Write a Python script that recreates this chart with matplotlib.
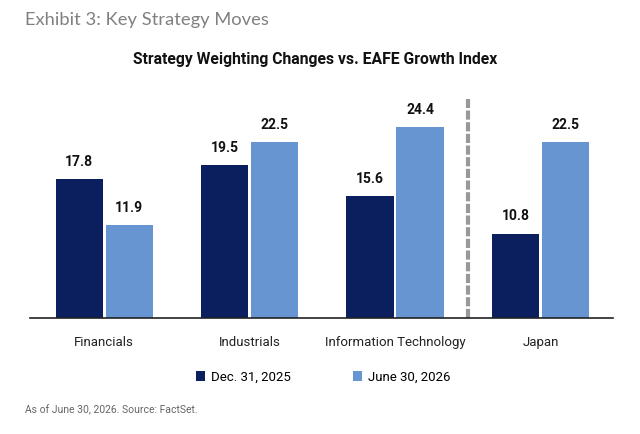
import matplotlib
matplotlib.use('Agg')
import matplotlib.pyplot as plt
import numpy as np

categories = ['Financials', 'Industrials', 'Information Technology', 'Japan']
dec_2025 = [17.8, 19.5, 15.6, 10.8]
jun_2026 = [11.9, 22.5, 24.4, 22.5]
series_names = ['Dec. 31, 2025', 'June 30, 2026']

dark = '#0b1f5e'
light = '#6795d2'
narrow = 'Roboto'

fig = plt.figure(figsize=(6.4, 4.34), dpi=100)
ax = fig.add_axes([0.047, 0.267, 0.911, 0.505])

x = np.arange(len(categories))
w = 0.324
off = 0.172
b1 = ax.bar(x - off, dec_2025, w, color=dark, label=series_names[0])
b2 = ax.bar(x + off, jun_2026, w, color=light, label=series_names[1])

# value labels above bars
for bars, vals in [(b1, dec_2025), (b2, jun_2026)]:
    for r, v in zip(bars, vals):
        ax.text(r.get_x() + r.get_width() / 2, v + 1.3, f'{v:.1f}', ha='center', va='bottom',
                fontsize=10, fontweight='bold', family=narrow, color='#111111')

ax.axvline(2.5, ymin=0, ymax=1, color='#999999', lw=3, ls=(0, (2.2, 0.6)))

ax.set_xlim(-0.51, 3.5)
ax.set_ylim(0, 28)
ax.set_yticks([])
ax.set_xticks(x)
ax.set_xticklabels(categories, family=narrow, fontsize=9.5, color='#222222')
ax.tick_params(axis='x', length=0, pad=13)
for s in ['top', 'right', 'left']:
    ax.spines[s].set_visible(False)
ax.spines['bottom'].set_color('#222222')
ax.spines['bottom'].set_linewidth(1.2)

leg = fig.legend(loc='center', bbox_to_anchor=(0.505, 0.131), ncol=2, frameon=False,
                 handlelength=0.7, handleheight=0.7, columnspacing=4.7, handletextpad=0.45,
                 prop={'family': narrow, 'size': 9.5})

fig.text(0.039, 0.953, 'Exhibit 3: Key Strategy Moves', fontsize=13.2, color='#808080',
         family='Lato', va='center', ha='left')
fig.text(0.493, 0.862, 'Strategy Weighting Changes vs. EAFE Growth Index', fontsize=11.3,
         fontweight='bold', family=narrow, ha='center', va='center', color='#111111')
fig.text(0.039, 0.055, 'As of June 30, 2026. Source: FactSet.', fontsize=7.5, color='#666666',
         family=narrow, va='center', ha='left')

fig.savefig('out.png', dpi=100)
